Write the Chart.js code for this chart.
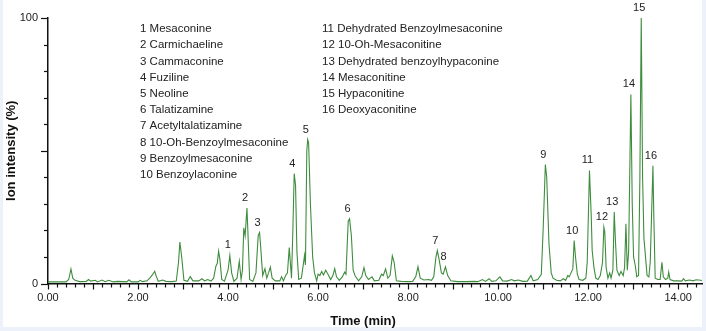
<!DOCTYPE html>
<html>
<head>
<meta charset="utf-8">
<script src="https://cdn.jsdelivr.net/npm/chart.js@4.4.0/dist/chart.umd.min.js"></script>
<style>
html, body { margin: 0; padding: 0; background: #edf2fa; }
</style>
</head>
<body>
<canvas id="chart"></canvas>
<script>
// chromatogram trace (time in min, relative intensity in %)
const times = [
  0.00, 0.40, 0.46, 0.51, 0.55, 0.60, 0.70, 0.85, 0.90, 0.95, 1.05, 1.10, 1.20, 1.27, 1.35, 1.45, 1.55, 1.75, 1.80, 1.85,
  2.00, 2.05, 2.10, 2.20, 2.27, 2.33, 2.37, 2.40, 2.45, 2.55, 2.62, 2.75, 2.85, 2.90, 2.93, 2.97, 3.02, 3.10, 3.16, 3.22,
  3.35, 3.42, 3.48, 3.55, 3.62, 3.68, 3.73, 3.76, 3.79, 3.82, 3.86, 3.92, 4.00, 4.04, 4.08, 4.13, 4.20, 4.25, 4.29, 4.32,
  4.35, 4.38, 4.42, 4.44, 4.48, 4.55, 4.62, 4.67, 4.70, 4.72, 4.77, 4.82, 4.86, 4.90, 4.94, 4.98, 5.05, 5.15, 5.19, 5.23,
  5.28, 5.32, 5.36, 5.41, 5.44, 5.47, 5.50, 5.53, 5.57, 5.63, 5.70, 5.72, 5.75, 5.77, 5.79, 5.83, 5.88, 5.92, 5.97, 6.00,
  6.04, 6.08, 6.12, 6.17, 6.22, 6.28, 6.33, 6.37, 6.41, 6.47, 6.54, 6.59, 6.62, 6.67, 6.70, 6.74, 6.78, 6.82, 6.90, 6.97,
  7.02, 7.06, 7.12, 7.20, 7.25, 7.35, 7.41, 7.45, 7.50, 7.55, 7.60, 7.65, 7.69, 7.74, 7.85, 8.00, 8.10, 8.17, 8.22, 8.27,
  8.35, 8.45, 8.52, 8.57, 8.62, 8.65, 8.69, 8.74, 8.78, 8.83, 8.88, 8.95, 9.10, 9.30, 9.45, 9.55, 9.65, 9.72, 9.80, 9.86,
  9.95, 10.04, 10.10, 10.20, 10.30, 10.36, 10.45, 10.55, 10.65, 10.73, 10.78, 10.88, 10.96, 11.00, 11.05, 11.08, 11.13, 11.18, 11.22, 11.30,
  11.38, 11.45, 11.50, 11.55, 11.58, 11.62, 11.66, 11.69, 11.72, 11.76, 11.80, 11.88, 11.95, 11.98, 12.03, 12.07, 12.09, 12.13, 12.17, 12.22,
  12.27, 12.32, 12.35, 12.37, 12.40, 12.44, 12.48, 12.51, 12.55, 12.58, 12.61, 12.64, 12.69, 12.73, 12.78, 12.81, 12.84, 12.87, 12.90, 12.95,
  12.98, 13.01, 13.05, 13.08, 13.12, 13.15, 13.18, 13.21, 13.24, 13.28, 13.31, 13.35, 13.38, 13.44, 13.46, 13.49, 13.55, 13.60, 13.64, 13.67,
  13.72, 13.77, 13.79, 13.82, 13.90, 14.00, 14.08, 14.12, 14.16, 14.25, 14.33, 14.40, 14.50, 14.53
];
const intensity = [
  0.6, 0.6, 1.5, 5.5, 2.0, 1.2, 0.7, 0.8, 1.5, 0.9, 1.2, 0.6, 1.3, 0.7, 1.2, 0.6, 0.8, 0.6, 1.4, 0.6,
  0.6, 1.2, 0.7, 1.0, 2.2, 3.5, 4.6, 3.0, 0.8, 1.3, 0.8, 0.7, 0.9, 8.0, 15.6, 10.0, 1.2, 0.8, 2.6, 1.0,
  1.0, 1.8, 1.0, 1.5, 0.9, 2.0, 6.5, 7.5, 12.2, 9.0, 1.5, 0.9, 5.0, 10.6, 4.0, 0.8, 2.0, 8.4, 1.5, 5.0,
  21.0, 18.0, 28.4, 20.0, 1.5, 0.8, 4.0, 18.0, 19.2, 15.0, 3.0, 5.6, 2.0, 4.0, 6.2, 2.0, 1.0, 1.0, 2.6, 1.0,
  3.0, 4.0, 13.5, 2.0, 20.0, 41.4, 37.0, 12.0, 1.5, 2.0, 10.6, 7.0, 50.0, 54.2, 53.0, 30.0, 10.0, 4.0, 1.0, 3.5,
  3.0, 4.5, 3.2, 5.0, 3.5, 1.5, 3.0, 5.6, 2.5, 1.2, 2.5, 4.3, 3.5, 23.5, 24.4, 18.0, 5.0, 3.0, 1.0, 2.5,
  6.0, 3.0, 1.5, 2.5, 1.0, 1.2, 3.5, 3.0, 5.5, 2.0, 3.0, 10.4, 8.0, 1.0, 0.8, 0.7, 0.8, 2.5, 6.3, 2.0,
  1.3, 1.5, 1.2, 2.5, 10.0, 12.4, 9.0, 4.0, 3.5, 6.3, 3.0, 1.0, 0.7, 0.7, 0.8, 0.7, 1.5, 0.8, 1.8, 0.8,
  1.0, 2.5, 1.0, 0.9, 1.5, 1.0, 1.3, 0.8, 0.9, 3.0, 1.0, 1.5, 3.5, 20.0, 44.8, 40.0, 15.0, 4.0, 2.0, 1.2,
  1.0, 1.8, 1.2, 3.0, 2.5, 4.0, 5.5, 16.2, 10.0, 3.5, 1.5, 1.2, 2.0, 8.0, 42.6, 25.0, 12.4, 6.0, 2.0, 1.5,
  3.0, 8.0, 21.2, 19.5, 6.0, 2.0, 4.0, 2.0, 5.0, 26.9, 15.0, 5.0, 3.0, 4.5, 3.0, 6.0, 22.5, 5.0, 12.0, 71.2,
  30.0, 10.0, 6.5, 2.5, 3.0, 40.0, 100, 40.0, 17.0, 9.0, 3.0, 2.5, 8.0, 44.3, 25.0, 2.0, 1.5, 1.5, 8.0, 2.5,
  1.5, 2.0, 4.3, 1.5, 1.0, 1.0, 0.9, 1.8, 1.0, 1.3, 1.0, 1.4, 1.2, 1.1
];

// labelled peaks
const peakNumbers = [1, 2, 3, 4, 5, 6, 7, 8, 9, 10, 11, 12, 13, 14, 15, 16];
const peakTimes = [4.04, 4.42, 4.70, 5.47, 5.77, 6.70, 8.65, 8.83, 11.05, 11.69, 12.03, 12.35, 12.58, 12.95, 13.18, 13.44];
const peakHeights = [10.6, 28.4, 19.2, 41.4, 54.2, 24.4, 12.4, 6.3, 44.8, 16.2, 42.6, 21.2, 26.9, 71.2, 100, 44.3];

const compounds = [
  'Mesaconine', 'Carmichaeline', 'Cammaconine', 'Fuziline', 'Neoline', 'Talatizamine',
  'Acetyltalatizamine', '10-Oh-Benzoylmesaconine', 'Benzoylmesaconine', 'Benzoylaconine',
  'Dehydrated Benzoylmesaconine', '10-Oh-Mesaconitine', 'Dehydrated benzoylhypaconine',
  'Mesaconitine', 'Hypaconitine', 'Deoxyaconitine'
];

const xLabelTimes = [0, 2, 4, 6, 8, 10, 12, 14];
const yLabelValues = [0, 100];

const FONT = "'Liberation Sans', Arial, sans-serif";

const decor = {
  id: 'decor',
  beforeDraw(chart) {
    const c = chart.ctx;
    c.save();
    c.fillStyle = '#edf2fa';
    c.fillRect(0, 0, chart.width, chart.height);
    c.fillStyle = '#ffffff';
    c.fillRect(3, 0, 699, 327);
    c.restore();
  },
  afterDraw(chart) {
    const c = chart.ctx;
    const xs = chart.scales.x, ys = chart.scales.y;
    c.save();
    // tick marks
    c.strokeStyle = '#111';
    c.lineWidth = 1.2;
    xs.ticks.forEach(t => {
      const px = Math.round(xs.getPixelForValue(t.value)) + 0.5;
      const len = Math.abs(t.value - Math.round(t.value)) < 1e-6 ? 6 : 4;
      c.beginPath();
      c.moveTo(px, xs.top);
      c.lineTo(px, xs.top + len);
      c.stroke();
    });
    ys.ticks.forEach(t => {
      const py = Math.round(ys.getPixelForValue(t.value)) + 0.5;
      const len = t.value % 50 === 0 ? 7 : 4;
      c.beginPath();
      c.moveTo(ys.right, py);
      c.lineTo(ys.right - len, py);
      c.stroke();
    });

    // peak numbers
    c.fillStyle = '#222';
    c.font = '11px ' + FONT;
    c.textAlign = 'center';
    c.textBaseline = 'middle';
    peakNumbers.forEach((n, i) => {
      const px = xs.getPixelForValue(peakTimes[i]);
      const py = ys.getPixelForValue(peakHeights[i]);
      c.fillText(String(n), px - 2, py - 10);
    });

    // compound list
    c.textAlign = 'left';
    c.font = '11.5px ' + FONT;
    compounds.forEach((name, i) => {
      const col = i < 10 ? 0 : 1;
      const row = col ? i - 10 : i;
      c.fillText((i + 1) + ' ' + name, col ? 322 : 140, 29 + row * 16.2);
    });

    // x title
    c.textAlign = 'center';
    c.font = 'bold 13px ' + FONT;
    c.fillStyle = '#111';
    c.fillText('Time (min)', xs.getPixelForValue(7), 321);
    c.restore();
  }
};

const ctx = document.querySelector('#chart').getContext('2d');
ctx.canvas.width = 706;
ctx.canvas.height = 331;

const chart = new Chart(ctx, {
  type: 'line',
  data: {
    datasets: [{
      data: times.map((t, i) => ({ x: t, y: intensity[i] })),
      borderColor: '#3f8c3f',
      borderWidth: 1.1,
      pointRadius: 0,
      fill: false,
      tension: 0
    }]
  },
  options: {
    responsive: false,
    animation: false,
    devicePixelRatio: 1,
    layout: { padding: { left: 0, right: 4, top: 18, bottom: 3 } },
    plugins: { legend: { display: false }, tooltip: { enabled: false } },
    scales: {
      x: {
        type: 'linear',
        min: 0,
        max: 14.53,
        bounds: 'data',
        afterFit: s => { s.height = 44.5; },
        grid: { display: true, drawOnChartArea: false, drawTicks: false },
        border: { display: true, color: '#111', width: 1.5 },
        ticks: {
          stepSize: 0.2,
          includeBounds: false,
          autoSkip: false,
          maxRotation: 0,
          padding: 8,
          color: '#222',
          font: { family: FONT, size: 11 },
          callback: v => xLabelTimes.some(t => Math.abs(t - v) < 1e-6) ? v.toFixed(2) : ''
        },
        title: { display: false }
      },
      y: {
        min: 0,
        max: 100,
        afterFit: s => { s.width = 48; },
        grid: { display: true, drawOnChartArea: false, drawTicks: false },
        border: { display: true, color: '#111', width: 1.5 },
        ticks: {
          stepSize: 10,
          autoSkip: false,
          padding: 10,
          color: '#222',
          font: { family: FONT, size: 11 },
          callback: v => yLabelValues.includes(v) ? String(v) : ''
        },
        title: {
          display: true,
          text: 'Ion intensity (%)',
          color: '#111',
          font: { family: FONT, size: 13, weight: 'bold' },
          padding: { top: 4, bottom: 0 }
        }
      }
    }
  },
  plugins: [decor]
});
</script>
</body>
</html>
